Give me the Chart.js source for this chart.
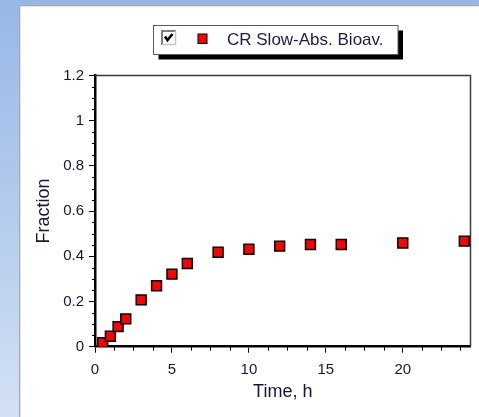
<!DOCTYPE html>
<html>
<head>
<meta charset="utf-8">
<script src="https://cdn.jsdelivr.net/npm/chart.js@4/dist/chart.umd.min.js"></script>
<style>
  html, body { margin: 0; padding: 0; }
  body {
    width: 479px; height: 417px; overflow: hidden; position: relative;
    background: linear-gradient(to bottom, #97b8e6 0%, #b3cbed 50%, #d3e1f4 100%);
  }
  #panel {
    position: absolute; left: 19px; top: 5px; right: 0; bottom: 0;
    background: #ffffff;
    border-left: 1px solid #a9a9a9; border-top: 1px solid #a9a9a9;
    box-shadow: inset 1px 1px 0 #e4e4e4;
  }
  #wrap { position: absolute; left: 0; top: 0; width: 479px; height: 417px; }
</style>
</head>
<body>
<div id="panel"></div>
<div id="wrap"><canvas id="chart" width="479" height="417"></canvas></div>
<script>
// Absorption fraction over time for the slow-absorption CR formulation
const seriesLabel = 'CR Slow-Abs. Bioav.';
const timeH    = [0.5, 1, 1.5, 2, 3, 4, 5, 6, 8, 10, 12, 14, 16, 20, 24];
const fraction = [0.018, 0.046, 0.089, 0.123, 0.207, 0.270, 0.321, 0.368, 0.418, 0.431, 0.445, 0.452, 0.452, 0.459, 0.467];
const xTicks = [0, 5, 10, 15, 20];
const yTicks = [0, 0.2, 0.4, 0.6, 0.8, 1, 1.2];
const xRange = [0, 24.4];
const yRange = [0, 1.2];
const xMinorStep = 1.25;
const yMinorStep = 0.05;

const textColor = '#16163a';
const fontFamily = '"Liberation Sans", Arial, sans-serif';

// Minor ticks, thin top/right frame lines and the boxed legend
const decorations = {
  id: 'decorations',
  afterDraw(chart) {
    const ctx = chart.ctx;
    const area = chart.chartArea;
    const xs = chart.scales.x, ys = chart.scales.y;
    ctx.save();

    // frame on top and right
    ctx.strokeStyle = '#3a3a3a';
    ctx.lineWidth = 1.5;
    ctx.beginPath();
    ctx.moveTo(area.left, area.top);
    ctx.lineTo(area.right, area.top);
    ctx.lineTo(area.right, area.bottom);
    ctx.stroke();

    // minor ticks
    ctx.strokeStyle = '#000';
    ctx.lineWidth = 1;
    ctx.beginPath();
    for (let v = xRange[0]; v <= xRange[1] + 1e-9; v += xMinorStep) {
      if (Math.abs(v / 5 - Math.round(v / 5)) < 1e-6) continue;
      const px = Math.round(xs.getPixelForValue(v)) + 0.5;
      ctx.moveTo(px, area.bottom);
      ctx.lineTo(px, area.bottom + 4);
    }
    for (let v = yRange[0]; v <= yRange[1] + 1e-9; v += yMinorStep) {
      if (Math.abs(v / 0.2 - Math.round(v / 0.2)) < 1e-6) continue;
      const py = Math.round(ys.getPixelForValue(v)) + 0.5;
      ctx.moveTo(area.left, py);
      ctx.lineTo(area.left - 3, py);
    }
    ctx.stroke();

    // legend box with drop shadow
    const bx = 153.5, by = 25.5, bw = 244.5, bh = 29;
    ctx.fillStyle = '#000';
    ctx.fillRect(bx + 5, by + 5, bw, bh);
    ctx.fillStyle = '#fff';
    ctx.fillRect(bx, by, bw, bh);
    ctx.strokeStyle = '#5a5a5a';
    ctx.lineWidth = 1;
    ctx.strokeRect(bx, by, bw, bh);

    // checkbox
    const cx = 161, cy = 30, cs = 15;
    ctx.fillStyle = '#fff';
    ctx.fillRect(cx, cy, cs, cs);
    ctx.strokeStyle = '#808080';
    ctx.lineWidth = 2;
    ctx.beginPath();
    ctx.moveTo(cx + 1, cy + cs); ctx.lineTo(cx + 1, cy + 1); ctx.lineTo(cx + cs, cy + 1);
    ctx.stroke();
    ctx.strokeStyle = '#c8c8c8';
    ctx.lineWidth = 1.5;
    ctx.beginPath();
    ctx.moveTo(cx + cs - 0.5, cy + 1); ctx.lineTo(cx + cs - 0.5, cy + cs - 0.5); ctx.lineTo(cx + 1, cy + cs - 0.5);
    ctx.stroke();
    ctx.strokeStyle = '#000';
    ctx.lineWidth = 2.6;
    ctx.beginPath();
    ctx.moveTo(cx + 4, cy + 6.5); ctx.lineTo(cx + 6.5, cy + 10); ctx.lineTo(cx + 11.5, cy + 4);
    ctx.stroke();

    // series marker
    const ds = chart.data.datasets[0];
    ctx.fillStyle = ds.backgroundColor;
    ctx.fillRect(198, 34, 9, 9.5);
    ctx.strokeStyle = '#000';
    ctx.lineWidth = 1;
    ctx.strokeRect(198, 34, 9, 9.5);

    // label
    ctx.fillStyle = '#1c1c4e';
    ctx.font = '17px ' + fontFamily;
    ctx.textBaseline = 'middle';
    ctx.textAlign = 'left';
    ctx.fillText(ds.label, 227, 40);

    ctx.restore();
  }
};

new Chart(document.getElementById('chart'), {
  type: 'scatter',
  data: {
    datasets: [{
      label: seriesLabel,
      data: timeH.map((t, i) => ({ x: t, y: fraction[i] })),
      pointStyle: 'rect',
      pointRadius: 7,
      pointHoverRadius: 7,
      backgroundColor: '#ff0000',
      borderColor: '#000000',
      borderWidth: 1.5,
      showLine: false
    }]
  },
  options: {
    responsive: false,
    animation: false,
    events: [],
    layout: { padding: { top: 75.5, right: 3, left: 0, bottom: 0 } },
    plugins: { legend: { display: false }, tooltip: { enabled: false } },
    scales: {
      x: {
        type: 'linear',
        min: xRange[0], max: xRange[1],
        afterBuildTicks: s => { s.ticks = xTicks.map(v => ({ value: v })); },
        afterFit: s => { s.height = 70.3; },
        border: { display: true, color: '#000', width: 2.5 },
        grid: { display: true, drawOnChartArea: false, drawTicks: true, tickLength: 6, tickColor: '#000', tickWidth: 1 },
        ticks: { color: textColor, font: { family: fontFamily, size: 15 }, padding: 8, maxRotation: 0, callback: v => String(v) },
        title: { display: true, text: 'Time, h', color: textColor, font: { family: fontFamily, size: 18 }, padding: { top: 0, bottom: 14 } }
      },
      y: {
        type: 'linear',
        min: yRange[0], max: yRange[1],
        afterBuildTicks: s => { s.ticks = yTicks.map(v => ({ value: v })); },
        afterFit: s => { s.width = 95; },
        border: { display: true, color: '#000', width: 2.5 },
        grid: { display: true, drawOnChartArea: false, drawTicks: true, tickLength: 6, tickColor: '#000', tickWidth: 1 },
        ticks: { color: textColor, font: { family: fontFamily, size: 15 }, padding: 5, callback: v => String(v) },
        title: { display: true, text: 'Fraction', color: textColor, font: { family: fontFamily, size: 18 }, padding: { top: 33, bottom: 0 } }
      }
    }
  },
  plugins: [decorations]
});
</script>
</body>
</html>
